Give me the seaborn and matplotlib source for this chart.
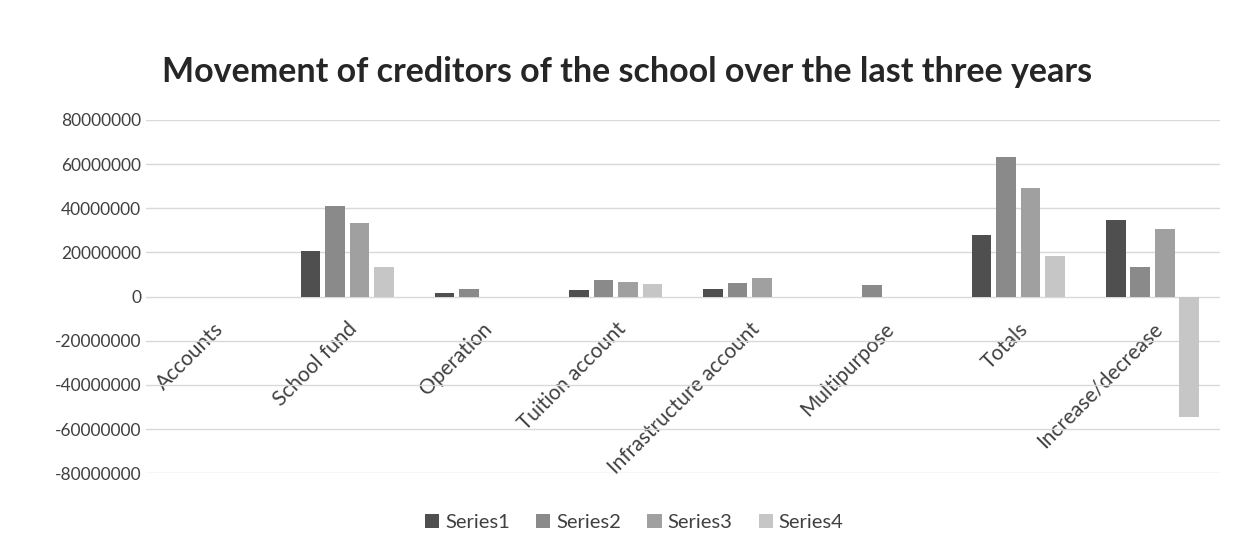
import matplotlib.pyplot as plt
import seaborn as sns
import pandas as pd

categories = ['Accounts', 'School fund', 'Operation', 'Tuition account',
              'Infrastructure account', 'Multipurpose', 'Totals', 'Increase/decrease']
series1 = [0, 20500000, 1500000, 3000000, 3300000, 0, 27800000, 34500000]
series2 = [0, 41000000, 3500000, 7500000, 6000000, 5300000, 63000000, 13500000]
series3 = [0, 33500000, 0, 6800000, 8500000, 0, 49000000, 30500000]
series4 = [0, 13500000, 0, 5500000, 0, 0, 18600000, -54500000]
series_names = ['Series1', 'Series2', 'Series3', 'Series4']
colors = ['#4f4f4f', '#8a8a8a', '#a0a0a0', '#c6c6c6']

rows = []
for name, vals in zip(series_names, [series1, series2, series3, series4]):
    for cat, v in zip(categories, vals):
        rows.append({'category': cat, 'series': name, 'value': v})
df = pd.DataFrame(rows)

sns.set_style('white')
plt.rcParams['font.family'] = ['Lato', 'DejaVu Sans']

fig, ax = plt.subplots(figsize=(12.47, 5.58), dpi=100)
fig.subplots_adjust(left=0.117, right=0.978, top=0.785, bottom=0.152)

sns.barplot(data=df, x='category', y='value', hue='series', palette=colors,
            width=0.73, gap=0.2, linewidth=0, ax=ax, order=categories,
            hue_order=series_names)

ax.set_ylim(-80000000, 80000000)
ax.set_yticks(range(-80000000, 80000001, 20000000))
ax.set_yticklabels([str(v) for v in range(-80000000, 80000001, 20000000)],
                   fontsize=12.5, color='#404040')
ax.yaxis.grid(True, color='#d9d9d9', linewidth=1)
ax.set_axisbelow(True)
for s in ['top', 'right', 'left']:
    ax.spines[s].set_visible(False)
ax.spines['bottom'].set_position(('data', 0))
ax.spines['bottom'].set_visible(False)
ax.tick_params(axis='both', length=0)
ax.tick_params(axis='x', pad=16)
plt.setp(ax.get_xticklabels(), rotation=45, ha='right', rotation_mode='anchor',
         fontsize=15, color='#404040')
ax.set_xlabel('')
ax.set_ylabel('')

fig.suptitle('Movement of creditors of the school over the last three years',
             fontsize=24.5, fontweight='bold', color='#262626', x=0.503, y=0.9)

handles, labels = ax.get_legend_handles_labels()
ax.legend(handles, labels, loc='upper center', bbox_to_anchor=(0.455, -0.065),
          ncol=4, frameon=False, fontsize=14.5, handlelength=0.7, handleheight=0.7,
          columnspacing=1.3, handletextpad=0.3, labelcolor='#404040')

plt.savefig('out.png', dpi=100)
